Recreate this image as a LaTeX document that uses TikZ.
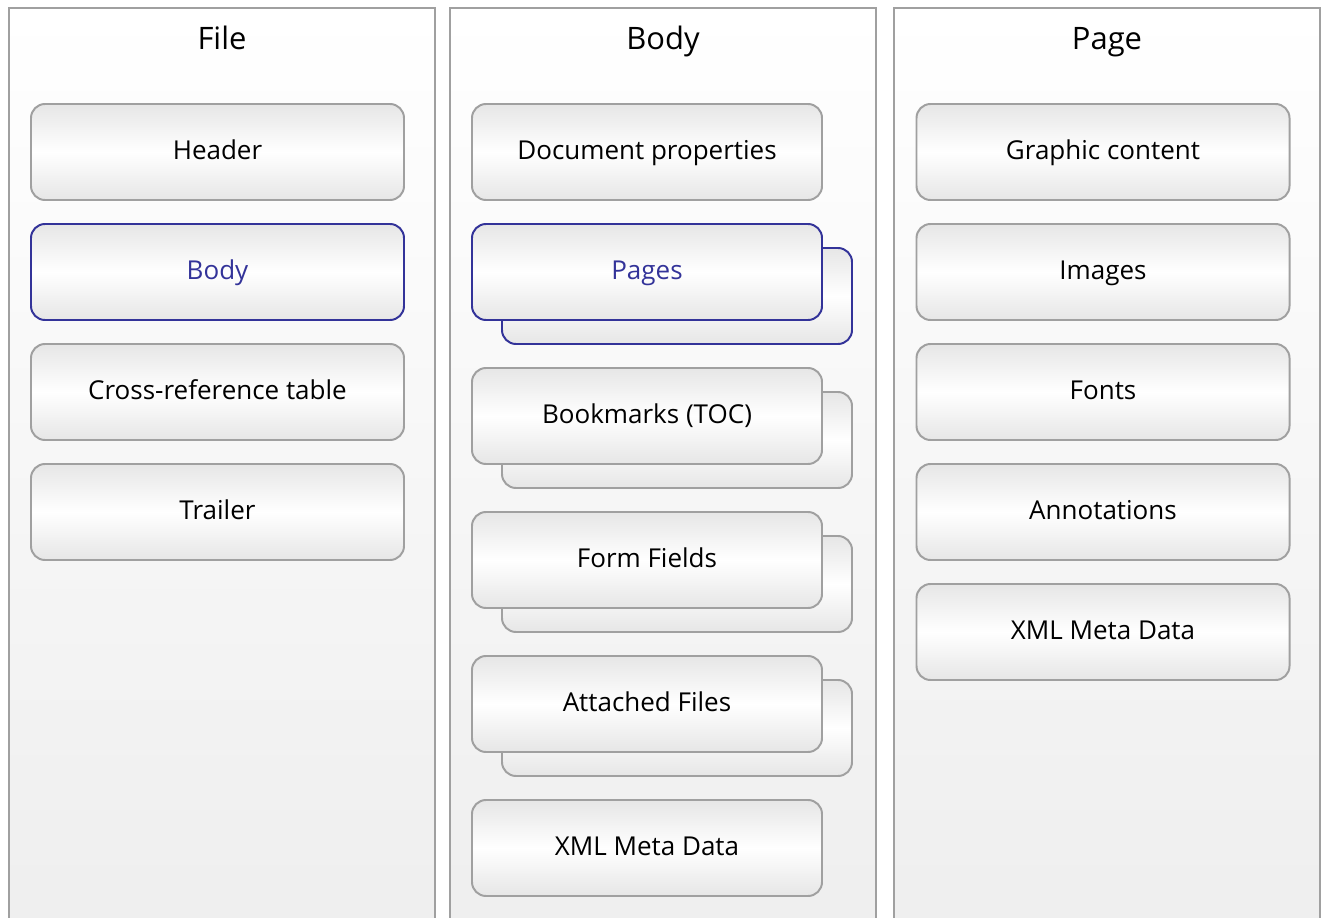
\documentclass[tikz,border=0pt]{standalone}
\usepackage{fontspec}
\setmainfont{Open Sans}
\usetikzlibrary{positioning,backgrounds}

\definecolor{framegray}{HTML}{A0A0A0}
\definecolor{boxgray}{HTML}{E6E6E6}
\definecolor{panelgray}{HTML}{EEEEEE}
\definecolor{pdfblue}{HTML}{333399}

\tikzstyle{panel} = [rectangle, draw=framegray, line width=1.4pt, top color=white, bottom color=panelgray, minimum width=10.65cm, minimum height=23.5cm, anchor=north west, outer sep=0pt]
\tikzstyle{title} = [font=\fontsize{22}{26}\selectfont, anchor=base]
\tikzstyle{box} = [rectangle, rounded corners=0.35cm, draw=framegray, line width=1.4pt, top color=boxgray, bottom color=boxgray, middle color=white, minimum height=2.4cm, text height=13.4pt, text depth=3pt, text centered, outer sep=0pt, font=\fontsize{18.5}{22}\selectfont]
\tikzstyle{wide} = [box, minimum width=9.325cm]
\tikzstyle{narrow} = [box, minimum width=8.75cm]
\tikzstyle{marked} = [draw=pdfblue, text=pdfblue]

\begin{document}
\begin{tikzpicture}[node distance=0.6cm]

\useasboundingbox (0,0) rectangle (33.175,-22.925);
\clip (0,0) rectangle (33.175,-22.925);

% column titles
\node (filetitle) [title] at (5.55,-1.25) {File};
\node (bodytitle) [title] at (16.575,-1.25) {Body};
\node (pagetitle) [title] at (27.675,-1.25) {Page};

% File
\node (header) [wide] at (5.4375,-3.8) {Header};
\node (body) [wide, marked, below=of header] {Body};
\node (xref) [wide, below=of body] {Cross-reference table};
\node (trailer) [wide, below=of xref] {Trailer};

% Body
\node (docprops) [narrow] at (16.175,-3.8) {Document properties};
\node (pages) [narrow, marked, below=of docprops] {Pages};
\node (bookmarks) [narrow, below=1.2cm of pages] {Bookmarks (TOC)};
\node (formfields) [narrow, below=1.2cm of bookmarks] {Form Fields};
\node (attached) [narrow, below=1.2cm of formfields] {Attached Files};
\node (bodyxml) [narrow, below=1.2cm of attached] {XML Meta Data};

% Page
\node (graphics) [wide] at (27.575,-3.8) {Graphic content};
\node (images) [wide, below=of graphics] {Images};
\node (fonts) [wide, below=of images] {Fonts};
\node (annots) [wide, below=of fonts] {Annotations};
\node (pagexml) [wide, below=of annots] {XML Meta Data};

\begin{scope}[on background layer]
\node (filepanel) [panel] at (0.225,-0.2) {};
\node (bodypanel) [panel] at (11.25,-0.2) {};
\node (pagepanel) [panel] at (22.35,-0.2) {};

\node (pagesback) [narrow, marked] at ([xshift=0.75cm,yshift=-0.6cm]pages.center) {};
\node (bookmarksback) [narrow] at ([xshift=0.75cm,yshift=-0.6cm]bookmarks.center) {};
\node (formfieldsback) [narrow] at ([xshift=0.75cm,yshift=-0.6cm]formfields.center) {};
\node (attachedback) [narrow] at ([xshift=0.75cm,yshift=-0.6cm]attached.center) {};
\end{scope}

\end{tikzpicture}
\end{document}
